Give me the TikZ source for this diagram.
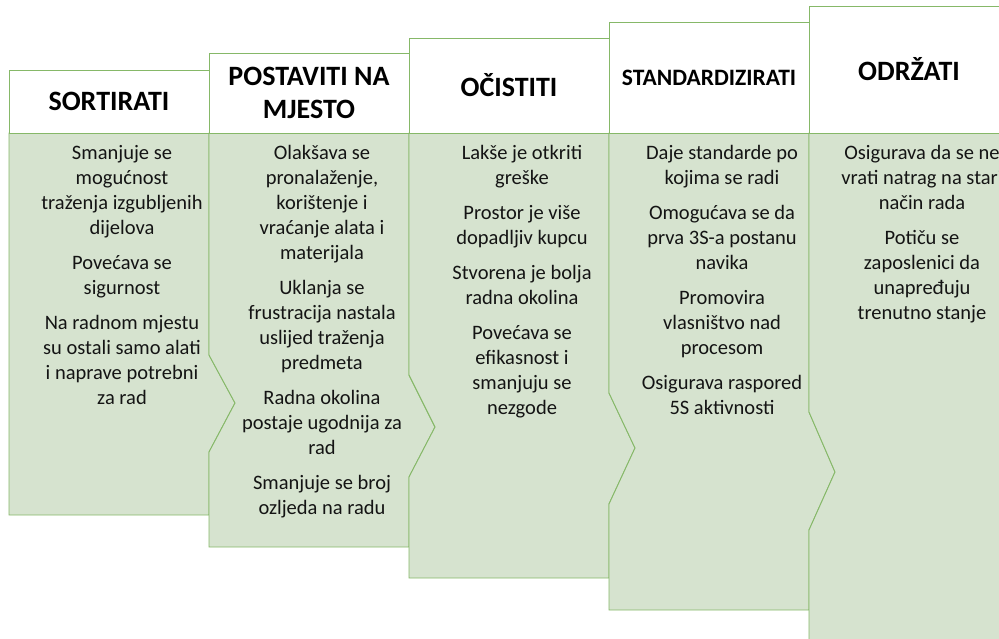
\documentclass[tikz,border=0pt]{standalone}
\usepackage{fontspec}
\setmainfont{Carlito}
\definecolor{leaf}{RGB}{214,227,207}
\definecolor{leafline}{RGB}{134,184,104}
\definecolor{ink}{RGB}{20,20,20}
\tikzset{
  hdr/.style={draw=leafline, line width=0.9pt, fill=white, minimum width=200pt,
    inner sep=0pt, align=center, font=\bfseries\fontsize{28}{33}\selectfont},
  bodybox/.style={draw=leafline, line width=0.9pt, fill=leaf},
  txt/.style={anchor=north, align=center, inner sep=0pt, text=ink,
    font=\fontsize{20.5}{25}\selectfont}
}
\begin{document}
\begin{tikzpicture}[x=1pt, y=-1pt]
    \useasboundingbox (0,0) rectangle (999,638);
    \clip (0,0) rectangle (999,638);

    % sortirati
    \draw[bodybox] (9,133) -- (209,133) -- (209,355) -- (235,403) -- (209,452)
      -- (209,515) -- (9,515) -- cycle;
    \node[hdr, minimum height=63pt] (hdr1) at (109,101.5) {SORTIRATI};
    \node[txt] (txt1) at (122,145) {Smanjuje se\\mogućnost\\traženja izgubljenih\\dijelova\\[10pt]
      Povećava se\\sigurnost\\[10pt]
      Na radnom mjestu\\su ostali samo alati\\i naprave potrebni\\za rad};

    % postaviti na mjesto
    \draw[bodybox] (209,133) -- (409,133) -- (409,375) -- (435,427) -- (409,477)
      -- (409,547) -- (209,547) -- (209,452) -- (235,403) -- (209,355) -- cycle;
    \node[hdr, minimum height=80pt] (hdr2) at (309,93) {POSTAVITI NA\\MJESTO};
    \node[txt] (txt2) at (322,145) {Olakšava se\\pronalaženje,\\korištenje i\\vraćanje alata i\\materijala\\[10pt]
      Uklanja se\\frustracija nastala\\uslijed traženja\\predmeta\\[10pt]
      Radna okolina\\postaje ugodnija za\\rad\\[10pt]
      Smanjuje se broj\\ozljeda na radu};

    % ocistiti
    \draw[bodybox] (409,133) -- (609,133) -- (609,393) -- (635,448) -- (609,504)
      -- (609,578) -- (409,578) -- (409,477) -- (435,427) -- (409,375) -- cycle;
    \node[hdr, minimum height=95pt] (hdr3) at (509,85.5) {OČISTITI};
    \node[txt] (txt3) at (522,145) {Lakše je otkriti\\greške\\[10pt]
      Prostor je više\\dopadljiv kupcu\\[10pt]
      Stvorena je bolja\\radna okolina\\[10pt]
      Povećava se\\efikasnost i\\smanjuju se\\nezgode};

    % standardizirati
    \draw[bodybox] (609,133) -- (809,133) -- (809,412) -- (835,472) -- (809,530)
      -- (809,610) -- (609,610) -- (609,504) -- (635,448) -- (609,393) -- cycle;
    \node[hdr, minimum height=111pt, font=\bfseries\fontsize{23.5}{28}\selectfont]
      (hdr4) at (709,77.5) {STANDARDIZIRATI};
    \node[txt] (txt4) at (722,145) {Daje standarde po\\kojima se radi\\[10pt]
      Omogućava se da\\prva 3S-a postanu\\navika\\[10pt]
      Promovira\\vlasništvo nad\\procesom\\[10pt]
      Osigurava raspored\\5S aktivnosti};

    % odrzati
    \draw[bodybox] (809,133) -- (1009,133) -- (1009,650) -- (809,650) -- (809,530)
      -- (835,472) -- (809,412) -- cycle;
    \node[hdr, minimum height=127pt] (hdr5) at (909,69.5) {ODRŽATI};
    \node[txt] (txt5) at (922,145) {Osigurava da se ne\\vrati natrag na stari\\način rada\\[10pt]
      Potiču se\\zaposlenici da\\unapređuju\\trenutno stanje};
\end{tikzpicture}
\end{document}
